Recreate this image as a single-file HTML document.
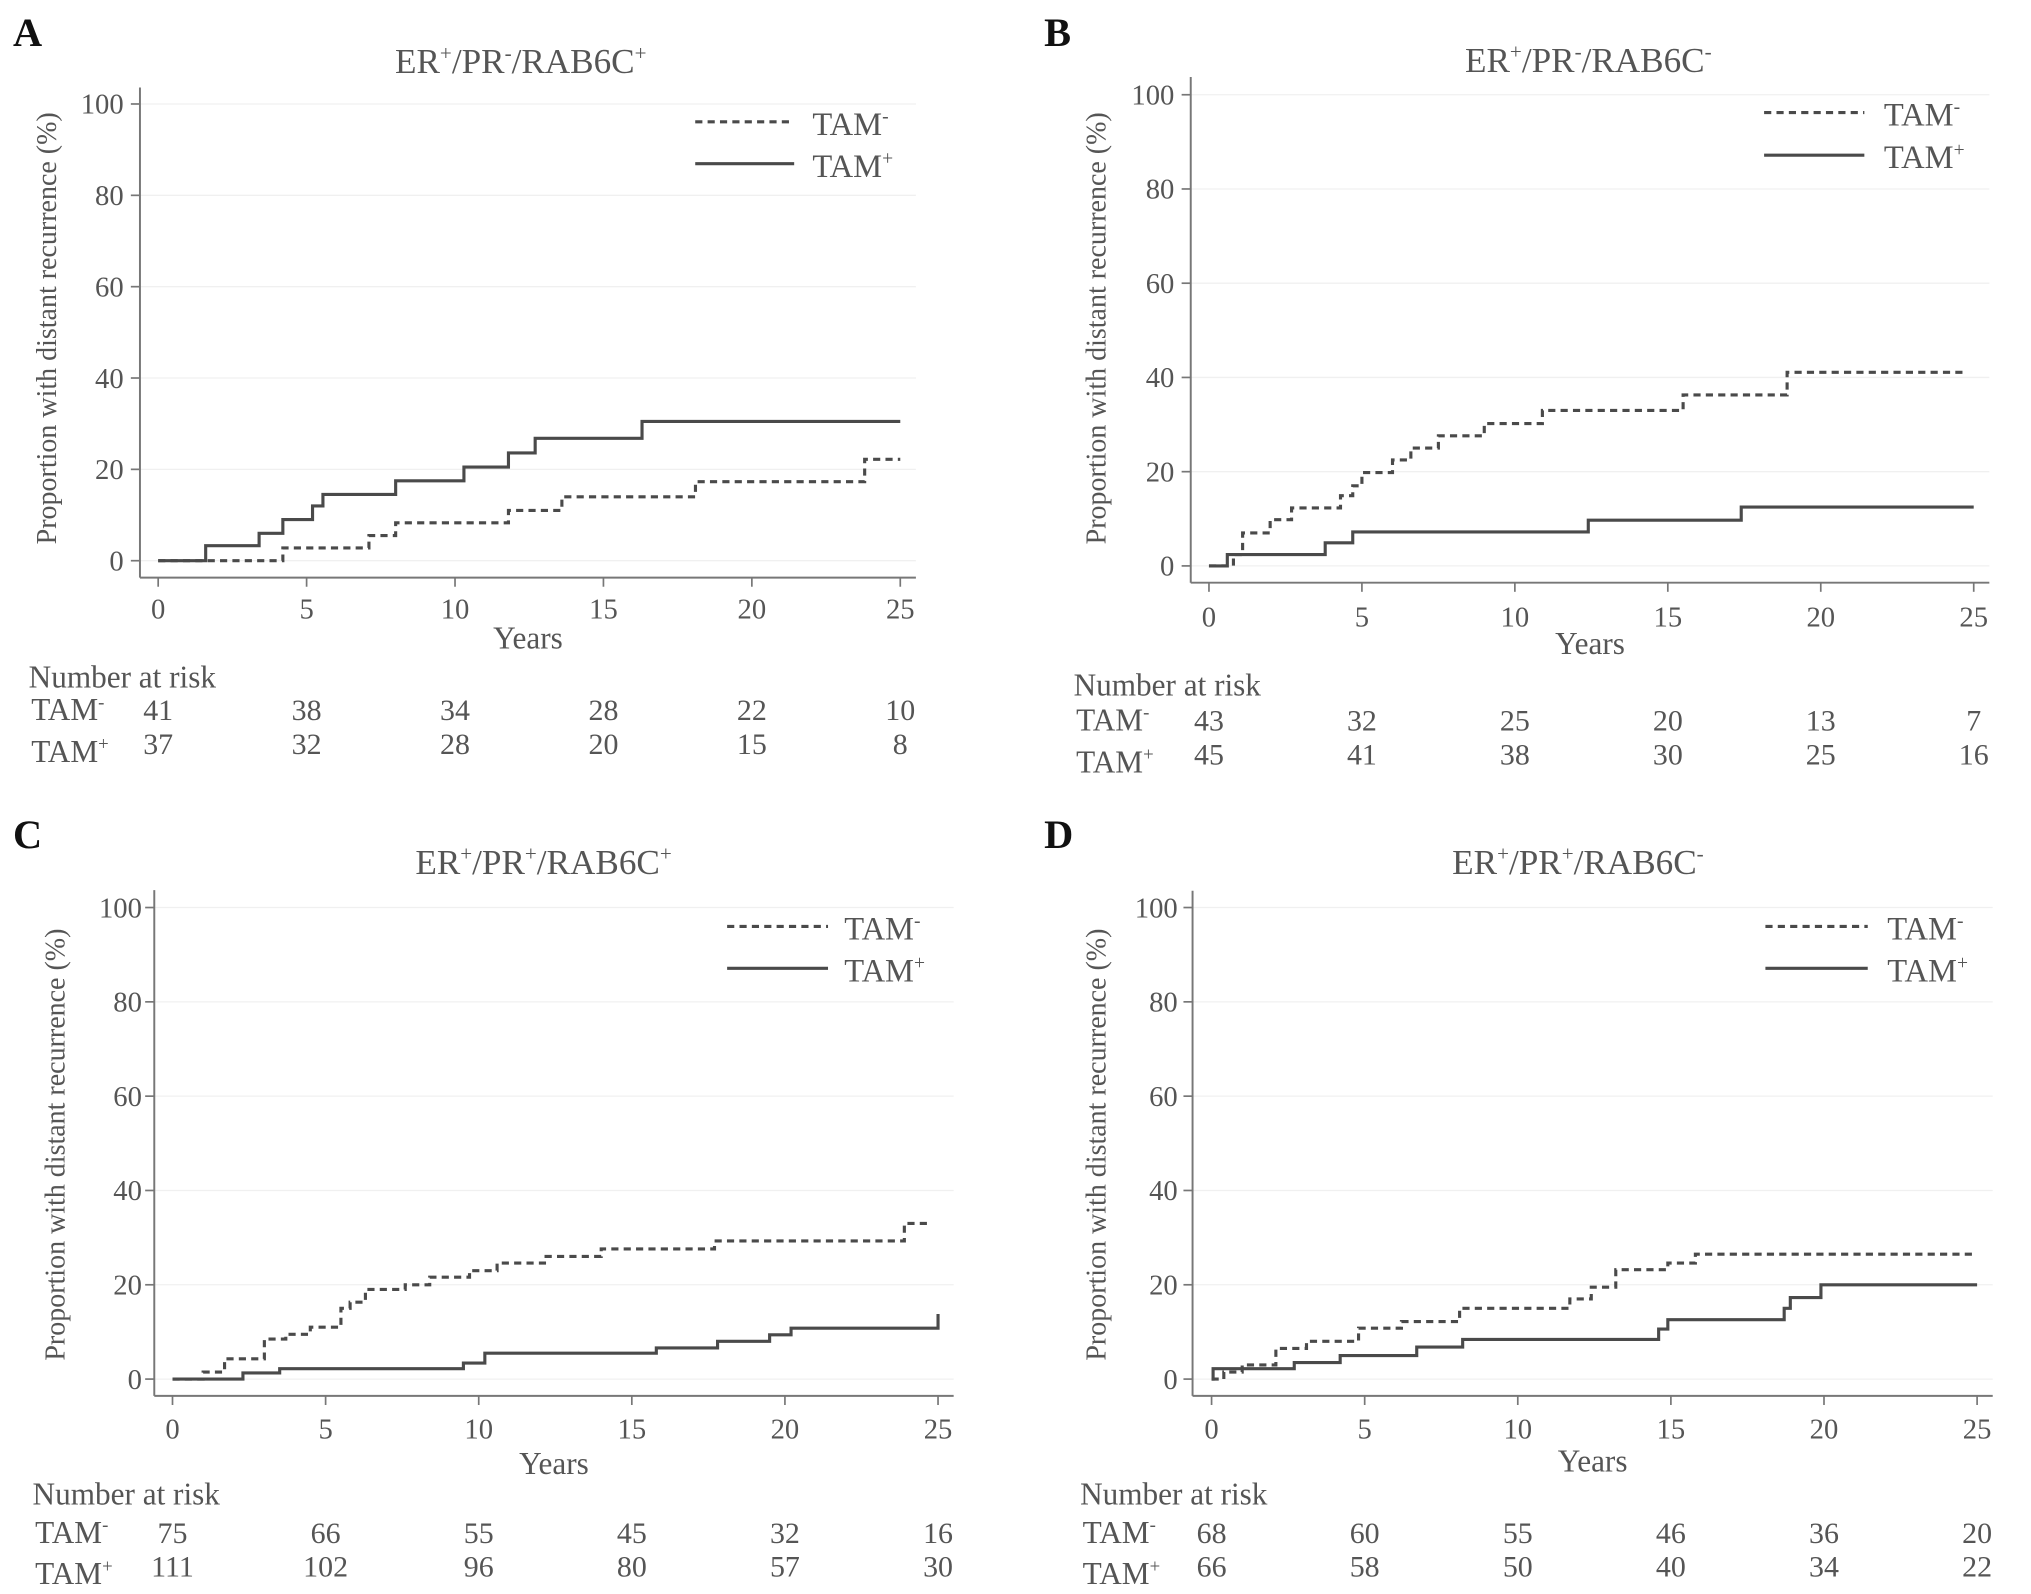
<!DOCTYPE html>
<html>
<head>
<meta charset="utf-8">
<style>
html,body{margin:0;padding:0;background:#fff;}
svg{display:block;}
text{font-family:"Liberation Serif",serif;fill:#555;}
</style>
</head>
<body>
<svg id="fig" xmlns="http://www.w3.org/2000/svg" width="2031" height="1594" viewBox="0 0 1560 1224"></svg>
<script>
// ---- data ----
const yTicks = [0, 20, 40, 60, 80, 100];
const xTicks = [0, 5, 10, 15, 20, 25];

const aNegT = [4.2, 7.1, 8.0, 11.8, 13.6, 18.1, 23.8];
const aNegV = [2.8, 5.5, 8.3, 11, 14, 17.3, 22.2];
const aNegEnd = 25;
const aPosT = [1.6, 3.4, 4.2, 5.2, 5.55, 8.0, 10.3, 11.8, 12.7, 16.3];
const aPosV = [3.3, 6, 9, 12, 14.5, 17.5, 20.5, 23.6, 26.8, 30.5];
const aPosEnd = 25;
const aRiskNeg = [41, 38, 34, 28, 22, 10];
const aRiskPos = [37, 32, 28, 20, 15, 8];

const bNegT = [0.8, 1.1, 2.0, 2.7, 4.3, 4.7, 5.0, 6.0, 6.6, 7.5, 9.0, 10.9, 15.5, 18.9];
const bNegV = [2.4, 7, 9.8, 12.3, 14.9, 17, 19.8, 22.5, 25, 27.6, 30.2, 33, 36.3, 41.1];
const bNegEnd = 24.7;
const bPosT = [0.6, 3.8, 4.7, 12.4, 17.4];
const bPosV = [2.4, 4.9, 7.2, 9.7, 12.5];
const bPosEnd = 25;
const bRiskNeg = [43, 32, 25, 20, 13, 7];
const bRiskPos = [45, 41, 38, 30, 25, 16];

const cNegT = [1.0, 1.7, 3.0, 3.7, 4.5, 5.5, 5.8, 6.3, 7.6, 8.4, 9.7, 10.6, 12.2, 14.0, 17.7, 23.9];
const cNegV = [1.5, 4.3, 8.5, 9.5, 11, 15, 16.3, 19, 20, 21.6, 23, 24.6, 26, 27.6, 29.3, 33];
const cNegEnd = 24.7;
const cPosT = [2.3, 3.5, 9.5, 10.2, 15.8, 17.8, 19.5, 20.2, 25];
const cPosV = [1.3, 2.2, 3.4, 5.5, 6.6, 8, 9.4, 10.8, 13.8];
const cPosEnd = 25;
const cRiskNeg = [75, 66, 55, 45, 32, 16];
const cRiskPos = [111, 102, 96, 80, 57, 30];

const dNegT = [0.4, 1.0, 2.1, 3.1, 4.8, 6.2, 8.1, 11.7, 12.4, 13.2, 14.9, 15.8];
const dNegV = [1.5, 3.0, 6.5, 8, 10.8, 12.2, 15, 17, 19.5, 23.2, 24.6, 26.5];
const dNegEnd = 25;
const dPosT = [0.05, 2.7, 4.2, 6.7, 8.2, 14.6, 14.9, 18.7, 18.9, 19.9];
const dPosV = [2.2, 3.5, 5, 6.8, 8.4, 10.6, 12.6, 15, 17.3, 20];
const dPosEnd = 25;
const dRiskNeg = [68, 60, 55, 46, 36, 20];
const dRiskPos = [66, 58, 50, 40, 34, 22];

const titles = [["ER","+","/PR","-","/RAB6C","+"],["ER","+","/PR","-","/RAB6C","-"],["ER","+","/PR","+","/RAB6C","+"],["ER","+","/PR","+","/RAB6C","-"]];

// ---- layout ----
const NS = "http://www.w3.org/2000/svg";
const svg = document.getElementById("fig");
function mk(tag, attrs, parent) {
  const e = document.createElementNS(NS, tag);
  for (const k in attrs) e.setAttribute(k, attrs[k]);
  (parent || svg).appendChild(e);
  return e;
}
function supText(parent, x, y, parts, size, anchor) {
  const t = mk("text", {x: x, y: y, "font-size": size, "text-anchor": anchor || "start"}, parent);
  parts.forEach((p, i) => {
    const s = document.createElementNS(NS, "tspan");
    s.textContent = p;
    if (i % 2 === 1) { s.setAttribute("font-size", size * 0.6); s.setAttribute("dy", -size * 0.38); }
    else if (i > 0) { s.setAttribute("dy", size * 0.38); }
    t.appendChild(s);
  });
  return t;
}

const panels = [
  {id:"a", letter:"A", lx:10, ly:35, axL:107.5, axB:443.5, axT:67, axR:703.5, x0:121.5, x25:691.5, y0:430.5, y100:79.7,
   tcx:400, tby:56, legX1:534, legX2:610, legY1:93.4, legY2:125.6, legTx:624, tickBase:475, yearsY:498, ytitleX:36, ytitleY:252, ytickR:95,
   narX:22, narY:528, r1:553, r2:579,
   neg:[aNegT,aNegV,aNegEnd], pos:[aPosT,aPosV,aPosEnd], rn:aRiskNeg, rp:aRiskPos},
  {id:"b", letter:"B", lx:802, ly:35, axL:914.6, axB:447.4, axT:59, axR:1528, x0:928.6, x25:1516, y0:434.5, y100:72.6,
   tcx:1220, tby:55, legX1:1355, legX2:1432, legY1:86.3, legY2:119, legTx:1447, tickBase:481, yearsY:502, ytitleX:842, ytitleY:252, ytickR:902,
   narX:824.6, narY:534, r1:561, r2:587,
   neg:[bNegT,bNegV,bNegEnd], pos:[bPosT,bPosV,bPosEnd], rn:bRiskNeg, rp:bRiskPos},
  {id:"c", letter:"C", lx:10, ly:651, axL:118.5, axB:1072, axT:683.5, axR:732.5, x0:132.5, x25:720.5, y0:1059.1, y100:696.9,
   tcx:417.5, tby:671, legX1:558.5, legX2:636, legY1:711.4, legY2:743.6, legTx:648.5, tickBase:1104.6, yearsY:1132, ytitleX:42.5, ytitleY:879, ytickR:109,
   narX:25, narY:1155.6, r1:1185, r2:1210.6,
   neg:[cNegT,cNegV,cNegEnd], pos:[cPosT,cPosV,cPosEnd], rn:cRiskNeg, rp:cRiskPos},
  {id:"d", letter:"D", lx:802, ly:651, axL:916, axB:1072, axT:684, axR:1530.6, x0:930.6, x25:1518.6, y0:1059.1, y100:696.9,
   tcx:1212, tby:671, legX1:1356, legX2:1434.6, legY1:711.4, legY2:743.6, legTx:1449.6, tickBase:1104.6, yearsY:1130, ytitleX:842, ytitleY:879, ytickR:904.6,
   narX:829.6, narY:1155.6, r1:1185, r2:1210.6,
   neg:[dNegT,dNegV,dNegEnd], pos:[dPosT,dPosV,dPosEnd], rn:dRiskNeg, rp:dRiskPos}
];

panels.forEach((p, pi) => {
  const g = mk("g", {});
  
  
  const X = t => p.x0 + (p.x25 - p.x0) * t / 25;
  const Y = v => p.y0 + (p.y100 - p.y0) * v / 100;

  const L = mk("text", {x:p.lx, y:p.ly, "font-size":31, "font-weight":"bold", fill:"#111"}, g);
  L.textContent = p.letter;
  L.style.fill = "#111";
  
  

  const T = supText(g, p.tcx, p.tby, titles[pi], 27, "middle");
  
  

  // gridlines
  yTicks.forEach(v => {
    const gl = mk("line", {x1:p.axL, x2:p.axR, y1:Y(v), y2:Y(v), stroke:"#f0f0f0", "stroke-width":1}, g);
    
    
  });
  // axes
  const ya = mk("line", {x1:p.axL, x2:p.axL, y1:p.axT, y2:p.axB, stroke:"#777", "stroke-width":1.5}, g);
  
  
  const xa = mk("line", {x1:p.axL, x2:p.axR, y1:p.axB, y2:p.axB, stroke:"#777", "stroke-width":1.5}, g);
  
  

  yTicks.forEach(v => {
    const tk = mk("line", {x1:p.axL - 7, x2:p.axL, y1:Y(v), y2:Y(v), stroke:"#777", "stroke-width":1.3}, g);
    
    
    const tl = mk("text", {x:p.ytickR, y:Y(v) + 7.5, "font-size":22, "text-anchor":"end"}, g);
    tl.textContent = v;
    
    
  });
  xTicks.forEach(t => {
    const tk = mk("line", {x1:X(t), x2:X(t), y1:p.axB, y2:p.axB + 7, stroke:"#777", "stroke-width":1.3}, g);
    
    
    const tl = mk("text", {x:X(t), y:p.tickBase, "font-size":22, "text-anchor":"middle"}, g);
    tl.textContent = t;
    
    
  });

  const yrs = mk("text", {x:(p.axL + p.axR) / 2, y:p.yearsY, "font-size":24, "text-anchor":"middle"}, g);
  yrs.textContent = "Years";
  
  

  const yt = mk("text", {x:0, y:0, "font-size":21.5, "text-anchor":"middle", transform:"translate(" + (p.ytitleX + 7) + "," + p.ytitleY + ") rotate(-90)"}, g);
  yt.textContent = "Proportion with distant recurrence (%)";
  
  

  function stepPath(T, V, end) {
    let d = "M" + X(0) + "," + Y(0);
    for (let i = 0; i < T.length; i++) d += " H" + X(T[i]) + " V" + Y(V[i]);
    d += " H" + X(end);
    return d;
  }
  const sn = mk("path", {d:stepPath(p.neg[0], p.neg[1], p.neg[2]), fill:"none", stroke:"#4a4a4a", "stroke-width":2.4, "stroke-dasharray":"5.5 4"}, g);
  
  
  const sp = mk("path", {d:stepPath(p.pos[0], p.pos[1], p.pos[2]), fill:"none", stroke:"#4a4a4a", "stroke-width":2.4}, g);
  
  

  // legend
  const lg = mk("g", {}, g);
  
  
  const l1 = mk("line", {x1:p.legX1, x2:p.legX2, y1:p.legY1, y2:p.legY1, stroke:"#4a4a4a", "stroke-width":2.4, "stroke-dasharray":"5.5 4"}, lg);
  
  
  const lt1 = supText(lg, p.legTx, p.legY1 + 10, ["TAM", "-"], 25);
  
  
  const l2 = mk("line", {x1:p.legX1, x2:p.legX2, y1:p.legY2, y2:p.legY2, stroke:"#4a4a4a", "stroke-width":2.4}, lg);
  
  
  const lt2 = supText(lg, p.legTx, p.legY2 + 10, ["TAM", "+"], 25);
  
  

  // number at risk
  const nar = mk("text", {x:p.narX, y:p.narY, "font-size":24}, g);
  nar.textContent = "Number at risk";
  
  
  const rl1 = supText(g, p.narX + 2, p.r1, ["TAM", "-"], 24);
  
  
  const rl2 = supText(g, p.narX + 2, p.r2 + 6, ["TAM", "+"], 24);
  
  
  xTicks.forEach((t, i) => {
    const a = mk("text", {x:X(t), y:p.r1, "font-size":23, "text-anchor":"middle"}, g);
    a.textContent = p.rn[i];
    
    
    const b = mk("text", {x:X(t), y:p.r2, "font-size":23, "text-anchor":"middle"}, g);
    b.textContent = p.rp[i];
    
    
  });
});
</script>
</body>
</html>
